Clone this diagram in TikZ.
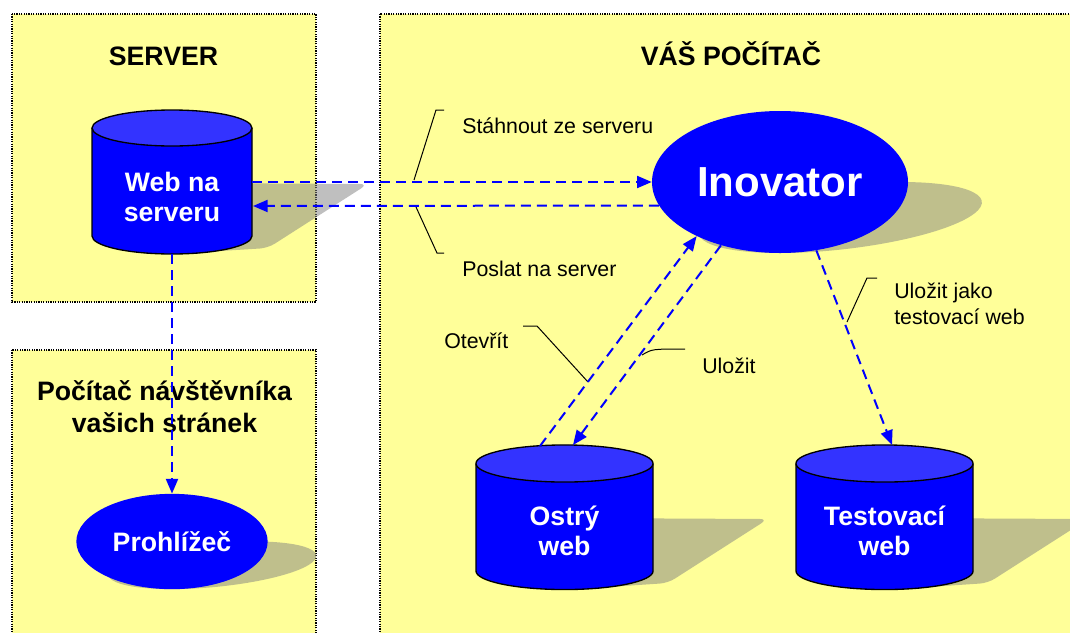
\documentclass[tikz,border=0pt]{standalone}
\usepackage{fontspec}
\setmainfont{Liberation Sans}
\usetikzlibrary{arrows.meta,shapes.geometric}
\definecolor{paper}{RGB}{255,255,153}
\definecolor{dbblue}{RGB}{0,0,255}
\definecolor{dblid}{RGB}{51,51,255}
\tikzset{
  zone/.style={fill=paper,draw=black,line width=1pt,dash pattern=on 0.9pt off 0.9pt},
  castshade/.style={fill=gray,fill opacity=0.5,rounded corners=6pt},
  dbside/.style={fill=dbblue,draw=black,line width=1pt},
  dbtop/.style={fill=dblid,draw=black,line width=1pt},
  blob/.style={ellipse,fill=dbblue,inner sep=0pt,text=white},
  dblabel/.style={text=white,font=\bfseries\fontsize{20}{23}\selectfont,align=center},
  heading/.style={font=\bfseries\fontsize{20}{24}\selectfont,align=center},
  note/.style={font=\fontsize{16}{19.5}\selectfont,anchor=base west,align=left,inner sep=0pt},
  flow/.style={dbblue,line width=1.5pt,dash pattern=on 7.5pt off 4.5pt,-{Triangle[length=11pt,width=9pt]}},
  callout/.style={black,line width=0.75pt}
}
\begin{document}
\begin{tikzpicture}[x=0.75pt,y=-0.75pt]
\clip (0,0) rectangle (1070,632);
% areas
\draw[zone] (12,14) rectangle (316,302);
\draw[zone] (12,350) rectangle (316,660);
\draw[zone] (380,14) rectangle (1090,660);

% headings
\node[heading,anchor=base] (hsrv) at (163.5,65) {SERVER};
\node[heading,anchor=base] (hpc) at (731,65) {VÁŠ POČÍTAČ};
\node[heading] (hvis) at (164.5,407) {Počítač návštěvníka\\vašich stránek};

% shadows
\fill[castshade] (172,183) -- (368,184) -- (268,248) -- (172,254) -- cycle;
\fill[castshade] (564,518) -- (768,519) -- (668,583) -- (564,590) -- cycle;
\fill[castshade] (884,518) -- (1088,519) -- (988,583) -- (884,590) -- cycle;
\begin{scope}[shift={(0,253)},yscale=0.5,xslant=0.85]
  \fill[castshade] (780,-71) ellipse[x radius=96pt,y radius=53.25pt];
\end{scope}
\begin{scope}[shift={(0,589)},yscale=0.5,xslant=0.85]
  \fill[castshade] (172,-47.5) ellipse[x radius=71.8pt,y radius=35.8pt];
\end{scope}

% databases
\draw[dbside] (92,128) -- (92,236) arc[start angle=180,end angle=360,x radius=60pt,y radius=13.5pt] -- (252,128);
\draw[dbtop] (172,128) ellipse[x radius=60pt,y radius=13.5pt];
\draw[dbside] (476,463.5) -- (476,571) arc[start angle=180,end angle=360,x radius=66.4pt,y radius=13.9pt] -- (653,463.5);
\draw[dbtop] (564.5,463.5) ellipse[x radius=66.4pt,y radius=13.9pt];
\draw[dbside] (796,463.5) -- (796,571) arc[start angle=180,end angle=360,x radius=66.4pt,y radius=13.9pt] -- (973,463.5);
\draw[dbtop] (884.5,463.5) ellipse[x radius=66.4pt,y radius=13.9pt];

\node[dblabel] (srv) at (172,197) {Web na\\serveru};
\node[dblabel] (ostry) at (564.5,531) {Ostrý\\web};
\node[dblabel] (test) at (884.5,531) {Testovací\\web};

\coordinate (srvR1) at (252,182);
\coordinate (srvR2) at (253,206);
\coordinate (srvB) at (172,254);
\coordinate (ostT1) at (540,446);
\coordinate (ostT2) at (573,445);
\coordinate (testT) at (892,445);

% programs
\node[blob,minimum width=192pt,minimum height=106.5pt,font=\bfseries\fontsize{31.5}{36}\selectfont] (inov) at (780,182) {\raisebox{-2.5pt}{Inovator}};
\node[blob,minimum width=143.5pt,minimum height=71.5pt,font=\bfseries\fontsize{20}{24}\selectfont] (prohl) at (172,541.5) {Prohlížeč};

% labels
\node[note] (lstah) at (462,133) {Stáhnout ze serveru};
\node[note] (lposl) at (462,276) {Poslat na server};
\node[note] (lotev) at (444,348) {Otevřít};
\node[note] (luloz) at (702,373) {Uložit};
\node[note] (ltest) at (894,324) {Uložit jako\\testovací web};

\draw[callout] (414,180) -- (436,110) -- (444,110);
\draw[callout] (416,207) -- (437,253) -- (444,253);
\draw[callout] (523,326) -- (537,326) -- (588,382);
\draw[callout] (642,355) .. controls (652,349) .. (685,349);
\draw[callout] (847,322) -- (867,278) -- (877,278);

% transfers
\draw[flow] (srvR1) -- (inov.180);
\draw[flow] (inov.191) -- (srvR2);
\draw[flow] (srvB) -- (prohl.north);
\draw[flow] (ostT1) -- (inov.213);
\draw[flow] (inov.227) -- (ostT2);
\draw[flow] (inov.298) -- (testT);
\end{tikzpicture}
\end{document}
